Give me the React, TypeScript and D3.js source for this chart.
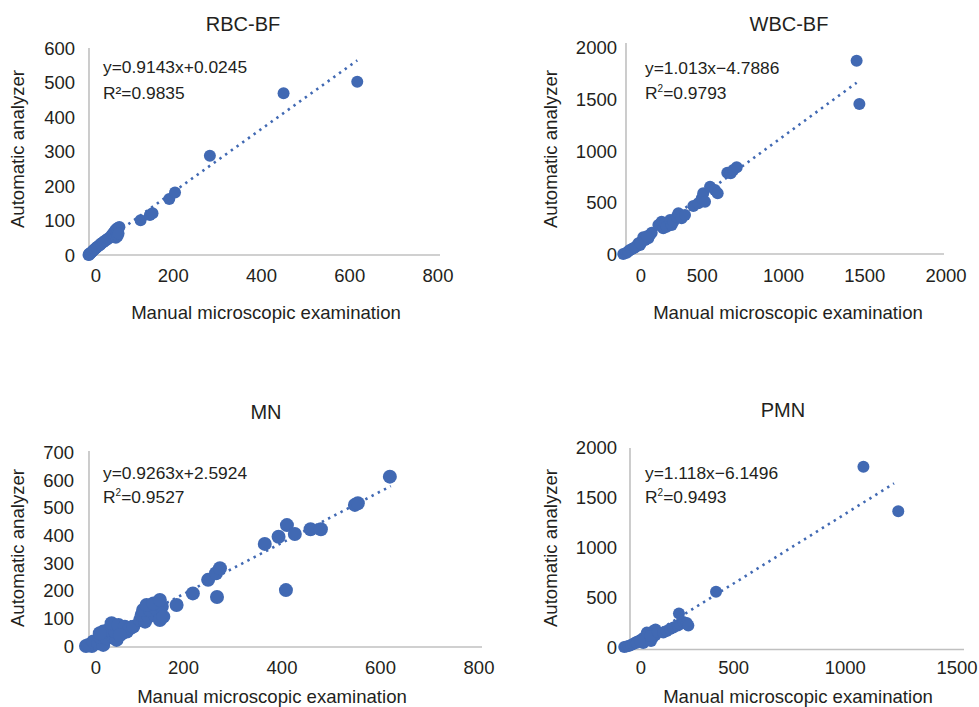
import React from "react";
import * as d3 from "d3";

// ---------- data ----------
const rbcX = [8, 9, 10, 11, 13, 15, 17, 19, 21, 23, 25, 27, 30, 32, 35, 37, 40, 42, 45, 48, 50, 53, 56, 58, 60, 62, 64, 66, 68, 70, 72, 75, 78, 70, 74, 76, 126, 147, 153, 191, 204, 283, 450, 617];
const rbcY = [0, 3, 1, 5, 6, 8, 11, 13, 16, 18, 20, 23, 25, 28, 30, 33, 36, 38, 41, 43, 46, 48, 50, 53, 56, 60, 63, 66, 70, 73, 76, 79, 81, 50, 55, 62, 101, 116, 121, 162, 181, 288, 469, 502];
const rbcTrendX = [8, 617];
const rbcTrendY = [7, 564];
const rbcXTicks = [0, 200, 400, 600, 800];
const rbcYTicks = [0, 100, 200, 300, 400, 500, 600];

const wbcX = [14, 35, 55, 76, 97, 107, 117, 127, 137, 148, 158, 168, 178, 189, 45, 65, 85, 120, 160, 230, 250, 260, 271, 281, 302, 312, 322, 343, 353, 373, 394, 445, 476, 497, 506, 517, 548, 578, 595, 654, 675, 691, 712, 1450, 1467];
const wbcY = [3, 15, 42, 58, 80, 106, 90, 122, 164, 138, 164, 155, 187, 209, 30, 50, 65, 105, 175, 284, 316, 252, 300, 267, 332, 284, 316, 364, 397, 348, 380, 468, 494, 542, 590, 509, 654, 622, 590, 790, 784, 816, 842, 1874, 1455];
const wbcTrendX = [14, 1450];
const wbcTrendY = [10, 1661];
const wbcXTicks = [0, 500, 1000, 1500, 2000];
const wbcYTicks = [0, 500, 1000, 1500, 2000];

const mnX = [2, 14, 7, 17, 27, 37, 30, 44, 57, 64, 37, 47, 61, 75, 85, 54, 68, 81, 91, 98, 71, 30, 112, 122, 115, 129, 142, 118, 132, 146, 156, 125, 139, 152, 152, 159, 186, 219, 250, 266, 274, 268, 365, 393, 410, 426, 458, 479, 408, 548, 554, 619];
const mnY = [0, 0, 4, 16, 10, 4, 34, 28, 34, 22, 52, 58, 52, 46, 52, 82, 76, 70, 64, 70, 40, 46, 94, 88, 112, 106, 112, 130, 130, 130, 142, 148, 154, 166, 94, 106, 148, 190, 239, 263, 281, 177, 369, 395, 437, 405, 422, 422, 202, 510, 516, 612];
const mnTrendX = [2, 621];
const mnTrendY = [4, 578];
const mnXTicks = [0, 200, 400, 600, 800];
const mnYTicks = [0, 100, 200, 300, 400, 500, 600, 700];

const pmnX = [10, 20, 30, 40, 50, 60, 70, 80, 90, 100, 110, 120, 130, 140, 150, 105, 120, 140, 150, 95, 130, 66, 81, 111, 126, 160, 185, 200, 215, 230, 250, 260, 275, 290, 297, 255, 421, 1081, 1237];
const pmnY = [0, 5, 10, 20, 30, 45, 55, 65, 80, 95, 110, 125, 140, 160, 175, 60, 80, 100, 120, 40, 60, 43, 60, 144, 111, 150, 145, 160, 180, 195, 215, 230, 250, 240, 215, 335, 554, 1805, 1359];
const pmnTrendX = [44, 1218];
const pmnTrendY = [0, 1638];
const pmnXTicks = [0, 500, 1000, 1500];
const pmnYTicks = [0, 500, 1000, 1500, 2000];

const titles = ["RBC-BF", "WBC-BF", "MN", "PMN"];
const equations = ["y=0.9143x+0.0245", "y=1.013x\u22124.7886", "y=0.9263x+2.5924", "y=1.118x\u22126.1496"];
const r2Values = ["0.9835", "0.9793", "0.9527", "0.9493"];
const xAxisTitle = "Manual microscopic examination";
const yAxisTitle = "Automatic analyzer";

// ---------- styles ----------
const BLUE = "#4169b3";
const TEXT = "#231f20";
const AXIS = "#c0c0c0";
const FONT = "'Liberation Sans', Arial, Helvetica, sans-serif";

type Layout = {
  xr: [number, number]; yr: [number, number];
  axisX: number; axisTop: number; axisY: number; axisRight: number;
  titleX: number; titleY: number; eqX: number; eqY: number; r2Y: number;
  yLabX: number; yLabY: number; xLabX: number; xLabY: number;
  xTickY: number; yTickRight: number; zeroDx: number; r: number; supR2: boolean;
};

const panels = [
  { xs: rbcX, ys: rbcY, tx: rbcTrendX, ty: rbcTrendY, xTicks: rbcXTicks, yTicks: rbcYTicks,
    L: { xr: [85, 438], yr: [255, 48], axisX: 89, axisTop: 48, axisY: 255, axisRight: 440, titleX: 243, titleY: 31, eqX: 103, eqY: 73, r2Y: 99, yLabX: 24, yLabY: 149, xLabX: 266, xLabY: 319, xTickY: 282, yTickRight: 75, zeroDx: 11, r: 6, supR2: false } as Layout },
  { xs: wbcX, ys: wbcY, tx: wbcTrendX, ty: wbcTrendY, xTicks: wbcXTicks, yTicks: wbcYTicks,
    L: { xr: [621, 946], yr: [254.3, 47.7], axisX: 626, axisTop: 43, axisY: 254, axisRight: 944, titleX: 789, titleY: 31, eqX: 645, eqY: 74, r2Y: 99, yLabX: 557, yLabY: 149, xLabX: 788, xLabY: 319, xTickY: 282, yTickRight: 617, zeroDx: 20, r: 6, supR2: true } as Layout },
  { xs: mnX, ys: mnY, tx: mnTrendX, ty: mnTrendY, xTicks: mnXTicks, yTicks: mnYTicks,
    L: { xr: [85, 479], yr: [646, 452.3], axisX: 89, axisTop: 451, axisY: 647, axisRight: 482, titleX: 266, titleY: 419, eqX: 103, eqY: 479, r2Y: 503, yLabX: 24, yLabY: 548, xLabX: 272, xLabY: 703, xTickY: 674, yTickRight: 74, zeroDx: 11, r: 7, supR2: true } as Layout },
  { xs: pmnX, ys: pmnY, tx: pmnTrendX, ty: pmnTrendY, xTicks: pmnXTicks, yTicks: pmnYTicks,
    L: { xr: [622, 957], yr: [647, 447.3], axisX: 630, axisTop: 448, axisY: 649.5, axisRight: 964, titleX: 783, titleY: 417, eqX: 645, eqY: 479, r2Y: 503, yLabX: 557, yLabY: 548, xLabX: 798, xLabY: 703, xTickY: 674, yTickRight: 617, zeroDx: 19, r: 6, supR2: true } as Layout },
];

function Panel({ p, i }: { p: typeof panels[number]; i: number }) {
  const L = p.L;
  const x = d3.scaleLinear().domain(d3.extent(p.xTicks) as [number, number]).range(L.xr);
  const y = d3.scaleLinear().domain(d3.extent(p.yTicks) as [number, number]).range(L.yr);
  const pts = p.xs.map((v, k) => [v, p.ys[k]] as [number, number]);
  const trend = p.tx.map((v, k) => [v, p.ty[k]] as [number, number]);
  const line = d3.line<[number, number]>().x((d) => x(d[0])).y((d) => y(d[1]));
  return (
    <g fontFamily={FONT} fill={TEXT}>
      <text x={L.titleX} y={L.titleY} fontSize={20} textAnchor="middle">{titles[i]}</text>
      {/* axes */}
      <line x1={L.axisX} x2={L.axisX} y1={L.axisTop} y2={L.axisY} stroke={AXIS} strokeWidth={1.6} />
      <line x1={L.axisX} x2={L.axisRight} y1={L.axisY} y2={L.axisY} stroke={AXIS} strokeWidth={1.6} />
      {p.yTicks.map((t) => (
        <text key={"y" + t} x={L.yTickRight} y={y(t) + 6.6} fontSize={18.5} textAnchor="end">{t}</text>
      ))}
      {p.xTicks.map((t) => (
        <text key={"x" + t} x={x(t) + (t === 0 ? L.zeroDx : 0)} y={L.xTickY} fontSize={18.5} textAnchor="middle">{t}</text>
      ))}
      <text x={L.xLabX} y={L.xLabY} fontSize={18.6} textAnchor="middle">{xAxisTitle}</text>
      <text transform={`translate(${L.yLabX},${L.yLabY}) rotate(-90)`} fontSize={18.6} textAnchor="middle">{yAxisTitle}</text>
      {/* trendline */}
      <path d={line(trend) || ""} fill="none" stroke={BLUE} strokeWidth={2.6} strokeDasharray="2.4 4.6" />
      {/* points */}
      {pts.map((d, k) => (
        <circle key={k} cx={x(d[0])} cy={y(d[1])} r={L.r} fill={BLUE} />
      ))}
      {/* equation */}
      <text x={L.eqX} y={L.eqY} fontSize={17.4}>{equations[i]}</text>
      {L.supR2 ? (
        <text x={L.eqX} y={L.r2Y} fontSize={17.4}>
          R<tspan fontSize={10} dy={-7}>2</tspan><tspan dy={7}>={r2Values[i]}</tspan>
        </text>
      ) : (
        <text x={L.eqX} y={L.r2Y} fontSize={17.4}>{"R\u00b2=" + r2Values[i]}</text>
      )}
    </g>
  );
}

export default function App() {
  return (
    <svg width={979} height={707} viewBox="0 0 979 707"
      style={{ position: "absolute", left: 0, top: 0, background: "#fff", display: "block" }}>
      <rect width={979} height={707} fill="#fff" />
      {panels.map((p, i) => (
        <Panel key={i} p={p} i={i} />
      ))}
    </svg>
  );
}
